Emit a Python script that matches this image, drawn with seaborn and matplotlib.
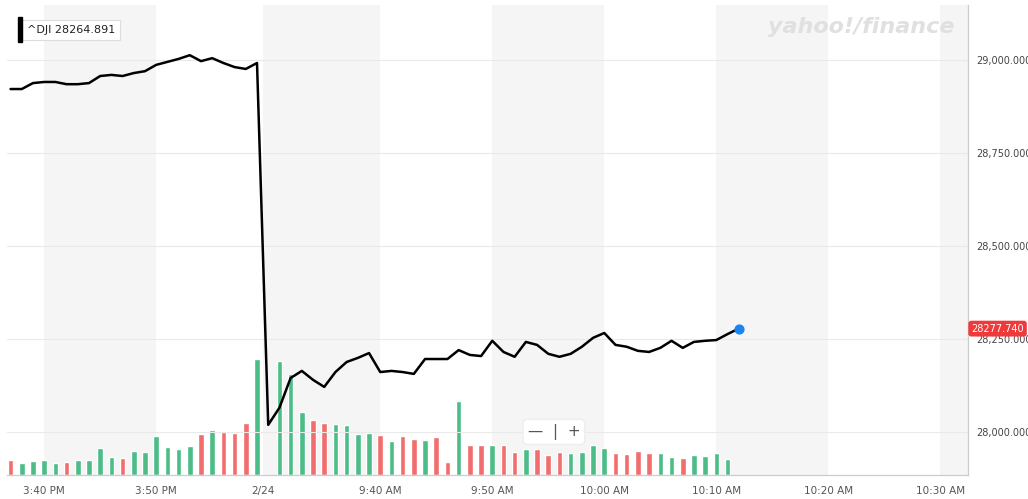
import numpy as np
import pandas as pd
import matplotlib
matplotlib.use("Agg")
import matplotlib.pyplot as plt
import seaborn as sns

sns.set_style("white")
plt.rcParams['font.family'] = ['DejaVu Sans']

# price: previous session (3:37-3:59 PM), then 2/24 session (9:30-10:13 AM)
price_pre = [28922, 28922, 28938, 28941, 28941, 28935, 28935, 28938, 28957, 28960, 28957,
             28965, 28970, 28987, 28995, 29003, 29013, 28997, 29005, 28992, 28981, 28976, 28992]
price_post = [28019, 28065, 28145, 28164, 28140, 28121, 28161, 28188, 28199, 28212, 28161,
              28164, 28161, 28156, 28196, 28196, 28196, 28220, 28207, 28204, 28245, 28215,
              28202, 28242, 28234, 28210, 28202, 28210, 28229, 28253, 28266, 28234, 28229,
              28218, 28215, 28226, 28245, 28226, 28242, 28245, 28247, 28263, 28277.74]
vol_pre = [15, 12, 14, 15, 12, 13, 15, 15, 27, 18, 17, 24, 23, 39, 28, 26, 29, 41, 45, 43, 42, 52, 116]
up_pre = [0, 1, 1, 1, 1, 0, 1, 1, 1, 1, 0, 1, 1, 1, 1, 1, 1, 0, 1, 0, 0, 0, 1]
vol_post = [114, 101, 63, 55, 52, 51, 50, 41, 42, 40, 34, 39, 36, 35, 38, 13, 74, 30, 30, 30, 30,
            23, 26, 26, 20, 23, 22, 23, 30, 27, 22, 21, 24, 22, 22, 18, 17, 20, 19, 22, 16]
up_post = [1, 1, 1, 0, 0, 1, 1, 1, 1, 0, 1, 0, 0, 1, 0, 0, 1, 0, 0, 1, 0,
           0, 1, 0, 0, 0, 1, 1, 1, 1, 0, 0, 0, 0, 1, 1, 0, 1, 1, 1, 1]
tick_slots = [3, 13, 22.5, 33, 43, 53, 63, 73, 83]
tick_labels = ["3:40 PM", "3:50 PM", "2/24", "9:40 AM", "9:50 AM", "10:00 AM", "10:10 AM", "10:20 AM", "10:30 AM"]
band_ranges = [(3, 13), (22.5, 33), (43, 53), (63, 73), (83, 90)]
y_ticks = [28000, 28250, 28500, 28750, 29000]
legend_value = "^DJI 28264.891"
last_value = 28277.74

n_pre = len(price_pre)
x_price = list(range(n_pre)) + list(range(n_pre, n_pre + len(price_post)))
df = pd.DataFrame({"x": x_price, "price": price_pre + price_post})
x_vol = list(range(n_pre)) + list(range(n_pre + 1, n_pre + 1 + len(vol_post)))
vols = vol_pre + vol_post
ups = up_pre + up_post

fig = plt.figure(figsize=(10.28, 4.99), dpi=100)
ax = fig.add_axes([0.007, 0.048, 0.935, 0.942])
axv = ax.twinx()
axv.set_zorder(0)
ax.set_zorder(1)
ax.patch.set_visible(False)

xmin, xmax = -0.3, 85.5
for a, b in band_ranges:
    axv.axvspan(a, min(b, xmax), color="#f5f5f5", lw=0, zorder=0)
axv.bar(x_vol, vols, width=0.5, color=["#4dbd87" if u else "#f26d6d" for u in ups], zorder=2)
axv.set_ylim(0, 470)
axv.set_yticks([])
axv.set_xlim(xmin, xmax)

for yv in y_ticks:
    ax.axhline(yv, color="#e9e9e9", lw=0.8, zorder=0)
sns.lineplot(data=df, x="x", y="price", ax=ax, color="black", lw=1.8, zorder=3)
ax.scatter([x_price[-1]], [last_value], s=40, color="#1a85f0", zorder=4)

ax.set_xlim(xmin, xmax)
ax.set_ylim(27884, 29148)
ax.yaxis.tick_right()
ax.set_yticks(y_ticks)
ax.set_yticklabels([f"{v:,.3f}" for v in y_ticks], fontsize=7, color="#444444")
ax.set_xticks(tick_slots)
ax.set_xticklabels(tick_labels, fontsize=7.5, color="#555555")
ax.tick_params(axis="x", length=4, color="#cccccc", pad=4)
ax.tick_params(axis="y", length=0, pad=6)
ax.set_xlabel("")
ax.set_ylabel("")
for s in ["top", "left"]:
    ax.spines[s].set_visible(False)
    axv.spines[s].set_visible(False)
for s in ["right", "bottom"]:
    ax.spines[s].set_color("#cccccc")
    axv.spines[s].set_color("#cccccc")

# legend box
fig.text(0.026, 0.94, legend_value, fontsize=8, color="#222222", va="center",
         bbox=dict(boxstyle="square,pad=0.45", fc="white", ec="#dddddd", lw=0.8))
fig.patches.append(plt.Rectangle((0.0175, 0.915), 0.004, 0.05, transform=fig.transFigure,
                                 color="black", zorder=5))
# watermark
fig.text(0.838, 0.945, "yahoo!/finance", fontsize=16, fontweight="bold", style="italic",
         color="#e0e0e0", ha="center", va="center")
# last price tag
ax.annotate(f"{last_value:.3f}", xy=(1.003, last_value), xycoords=("axes fraction", "data"),
            fontsize=7, color="white", va="center", ha="left",
            bbox=dict(boxstyle="round,pad=0.3", fc="#f0393b", ec="none"))
# zoom widget
ax.text(48.5, 28000, "—  |  +", fontsize=11, color="#555555", ha="center", va="center",
        bbox=dict(boxstyle="round,pad=0.3", fc="white", ec="#eeeeee"), zorder=6)

fig.savefig("out.png", dpi=100)
